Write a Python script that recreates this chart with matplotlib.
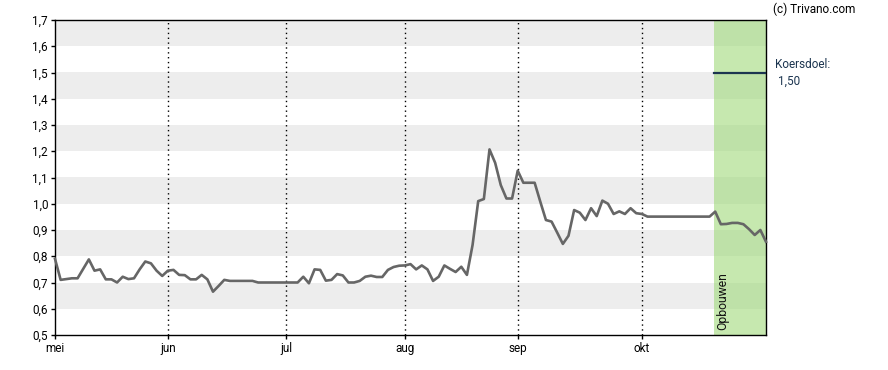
import numpy as np
import matplotlib.pyplot as plt

# koers per handelsdag (mei .. okt)
koers = [0.79, 0.71, 0.713, 0.716, 0.716, 0.752, 0.788, 0.745, 0.75, 0.712,
         0.712, 0.70, 0.722, 0.713, 0.716, 0.75, 0.78, 0.773, 0.745, 0.725,
         0.745, 0.748, 0.729, 0.728, 0.712, 0.712, 0.729, 0.712, 0.665, 0.687,
         0.71, 0.706, 0.706, 0.706, 0.706, 0.706, 0.70, 0.70, 0.70, 0.70,
         0.70, 0.70, 0.70, 0.70, 0.722, 0.697, 0.75, 0.748, 0.707, 0.71,
         0.732, 0.727, 0.70, 0.70, 0.706, 0.722, 0.726, 0.721, 0.721, 0.748,
         0.759, 0.764, 0.765, 0.77, 0.75, 0.765, 0.75, 0.706, 0.722, 0.765,
         0.752, 0.74, 0.76, 0.729, 0.843, 1.01, 1.018, 1.207, 1.156, 1.071,
         1.02, 1.02, 1.126, 1.08, 1.08, 1.08, 1.008, 0.938, 0.932, 0.89,
         0.847, 0.878, 0.976, 0.966, 0.938, 0.983, 0.953, 1.012, 1.0, 0.961,
         0.971, 0.961, 0.983, 0.964, 0.961, 0.951, 0.951, 0.951, 0.951, 0.951,
         0.951, 0.951, 0.951, 0.951, 0.951, 0.951, 0.951, 0.97, 0.922, 0.923,
         0.927, 0.927, 0.922, 0.903, 0.881, 0.90, 0.855]
maand_labels = ["mei", "jun", "jul", "aug", "sep", "okt"]
maand_pos = [0, 20, 41, 62, 82, 104]
advies_start = 116.8
advies_label = "Opbouwen"
koersdoel = 1.50

plt.rcParams['font.family'] = ['Roboto', 'DejaVu Sans']

fig = plt.figure(figsize=(8.88, 3.70), dpi=100)
ax = fig.add_axes([55 / 888, 1 - 335 / 370, 711 / 888, 315 / 370])

x = np.arange(len(koers))
xmax = len(koers) - 1
ax.set_xlim(0, xmax)
ax.set_ylim(0.5, 1.7)

# grijze banden
for lo in np.arange(0.6, 1.7, 0.2):
    ax.axhspan(lo, lo + 0.1, color="#ededed", lw=0, zorder=0)

# maandlijnen
for p in maand_pos[1:]:
    ax.axvline(p, color="black", lw=1, ls=(0, (1, 2.5)), zorder=1)

# advies-zone
ax.axvspan(advies_start, xmax, color=(160 / 255, 217 / 255, 123 / 255), alpha=0.6, lw=0, zorder=1)
ax.text(advies_start + 1.6, 0.52, advies_label, rotation=90, fontsize=8.7,
        ha="center", va="bottom", color="#111111", zorder=4)
ax.plot([advies_start, xmax], [koersdoel, koersdoel], color="#1c3550", lw=1.6, zorder=3)

ax.plot(x, koers, color="#666666", lw=1.9, zorder=3, clip_on=False)

ax.set_yticks(np.round(np.arange(0.5, 1.71, 0.1), 1))
ax.set_yticklabels([f"{v:.1f}".replace(".", ",") for v in np.arange(0.5, 1.71, 0.1)])
ax.set_xticks(maand_pos)
ax.set_xticklabels(maand_labels)
ax.tick_params(labelsize=8.5, length=3, width=1, colors="black", pad=2)

for s in ax.spines.values():
    s.set_linewidth(1)

fig.text(773 / 888, 1 - 9 / 370, "(c) Trivano.com", fontsize=8.5, va="center", ha="left")
fig.text(775 / 888, 1 - 64 / 370, "Koersdoel:", fontsize=8.5, va="center", ha="left", color="#1c3550")
fig.text(778 / 888, 1 - 81 / 370, "1,50", fontsize=8.5, va="center", ha="left", color="#1c3550")

fig.savefig("out.png", dpi=100)
